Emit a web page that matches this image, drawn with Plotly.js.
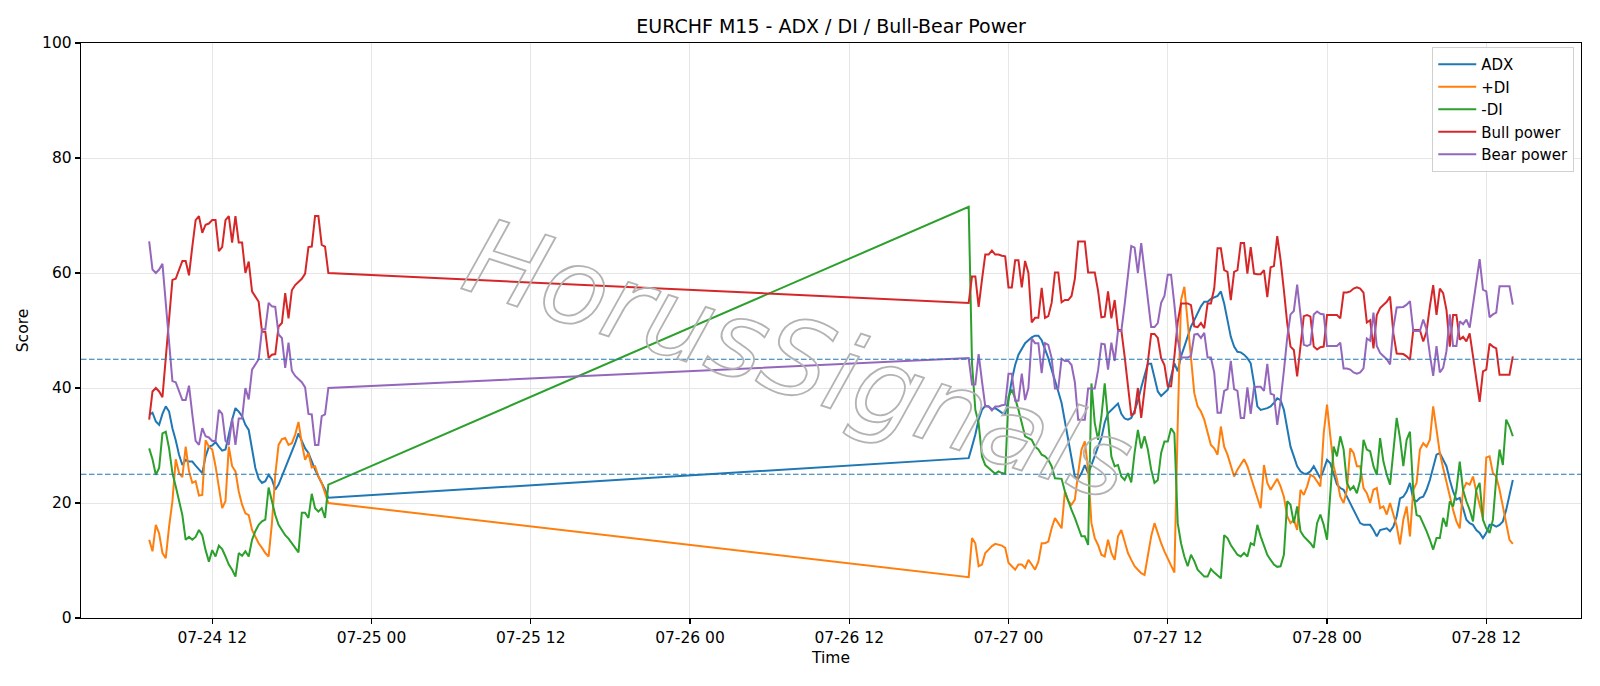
<!DOCTYPE html>
<html>
<head>
<meta charset="utf-8">
<script src="https://cdn.plot.ly/plotly-3.0.1.min.js"></script>
<style>
  html, body { margin: 0; padding: 0; background: #ffffff; }
  #chart { width: 1600px; height: 686px; }
</style>
</head>
<body>
<div id="chart"></div>
<script>
// ---------------- DATA ----------------
const chartTitle = "EURCHF M15 - ADX / DI / Bull-Bear Power";
const seriesNames = ["ADX", "+DI", "-DI", "Bull power", "Bear power"];
const seriesColors = ["#1f77b4", "#ff7f0e", "#2ca02c", "#d62728", "#9467bd"];
const thresholdLevels = [45, 25];
const watermarkText = "HorusSignals";

// Two sessions of M15 bars (15-minute steps)
const seg1Start = "2025-07-24T07:15:00Z";
const seg2Start = "2025-07-26T21:00:00Z";
const barMinutes = 15;

// Session 1 (07-24 07:15 .. 07-24 20:45)
const adx1 = [35.3,35.7,34.2,33.6,35.5,36.8,35.9,33,30.9,28.4,26.6,27.5,27.2,27.2,26.5,25.8,25.2,28.1,29.8,30,30.6,29.8,29.1,29.3,32.1,34.5,36.5,35.9,35.1,33.6,32.7,29.3,26.1,24.2,23.5,23.8,24.9,24.1,22.3,23.2,24.6,26.1,27.5,29,30.4,32.1,30.7,29.5,28.7,27.2,25.8,24.6,23.5,22.3,20.9];
const pdi1 = [13.6,11.6,16.2,14.7,11.3,10.4,15.9,20.3,27.6,25.2,24.5,29.8,25.5,23.5,23.8,21.3,21.4,30.9,29.8,29.3,26.4,22.6,19.1,20.3,29.8,26.4,25.5,22,19.7,18.2,17.9,15.3,14.1,13,12.2,11.3,10.7,16.5,24.9,30.1,31.1,31.3,30.1,30.4,31.9,34.1,30.4,27.5,28.7,26.2,26.4,24.6,23.5,21.8,20];
const mdi1 = [29.5,27.6,24.9,26.1,32.1,32.4,29.5,25.2,22.9,20.6,17.9,13.6,14.1,13.6,14.1,15.3,14.4,11.8,9.8,11.8,10.7,12.6,12,10.7,9.3,8.4,7.2,11.3,10.8,11.6,10.7,13.6,15.1,16.2,16.8,17.1,22.7,20.3,17.9,16.2,15.3,14.4,13.8,13,12.2,11.4,18.3,18.3,17.4,21.6,19.1,18.5,19.1,17.4,23.2];
const bull1 = [34.5,39.4,40,39.4,38.4,45.5,52.4,58.8,59,60.5,62.1,62.1,59.6,64.6,69.2,69.9,67,68.4,68.6,69.2,69.2,63.8,64.5,69.2,69.9,65.3,69.9,65.3,65.3,60,62,56.8,56,55,49.8,49.8,45.2,45.8,45.9,50.7,51.3,56.5,52.1,57,57.9,58.5,59,59.9,64.5,64.6,69.9,69.9,64.9,64.6,60];
const bear1 = [65.5,60.6,60,60.6,61.6,54.5,47.6,41.2,41,39.5,37.9,37.9,40.4,35.4,30.8,30.1,33,31.6,31.4,30.8,30.8,36.2,35.5,30.8,30.1,34.7,30.1,34.7,34.7,40,38,43.2,44,45,50.2,50.2,54.8,54.2,54.1,49.3,48.7,43.5,47.9,43,42.1,41.5,41,40.1,35.5,35.4,30.1,30.1,35.1,35.4,40];

// Session 2 (07-26 21:00 .. 07-28 14:00)
const adx2 = [27.8,29.8,31.9,34.5,36.2,36.9,36.8,36.3,36.5,36.1,35.7,35.5,38,41.4,44,45.8,46.9,47.8,48.3,48.8,49.1,49.1,48.3,46.9,45.2,43.2,41.1,39.4,37.4,34.2,30.7,27.2,24.6,24.2,25.2,26.6,25.2,26.6,28.4,29.8,31.3,34,35.6,36.2,36.8,37.3,35.5,34.7,34.5,34.8,36,37.8,40.1,42.3,44.2,44.2,41.7,39.4,38.6,39.1,39.7,42,44.3,42.9,45.5,47.2,48.9,50.7,51.8,53,54.2,55,55,55.5,55.8,56,56.8,54.7,51.8,48.9,47.2,46.3,46.2,45.8,45.2,44.3,40.8,36.8,36.2,36.3,36.5,36.8,37.4,38.2,37.9,36.2,32.7,29.8,28.1,26.4,25.5,25.1,25.1,25.5,26.4,25.2,24.3,25.8,27.5,26.9,25.2,23.2,22.6,22.3,21.1,20,18.8,17.7,16.5,16.2,16.2,16.2,15.3,14.2,15.3,15.5,15.6,15.1,15.9,17.7,20.8,21.1,22,23.5,20.6,20.3,20.9,21.1,22.3,24,26.4,28.4,28.7,27.5,26.4,24,22,20.6,20.9,19.1,17.1,16.5,16.2,15.3,14.8,13.9,14.8,16.2,16.2,15.9,16.2,16.8,18.8,21.4,24];
const pdi2 = [7.1,13.9,13,9,9.3,11.3,11.9,12.5,12.9,12.7,12.6,12.2,9.6,9,8.4,9.3,9.3,8.7,10.1,9.3,8.4,9.8,13,13,13.3,15.6,17.4,16.5,15.6,22,20.3,19.7,20.6,25.2,29.3,30.7,25.8,16.5,13.9,12.7,11,10.7,13.6,11.3,10.1,14.2,15.3,13.3,11.3,10.1,9,8.4,7.8,7.5,10.7,14.2,16.5,14.7,13,11.6,10.4,9.3,7.9,33.8,55.3,57.6,51.3,44.3,39.1,36.8,35.9,34.5,32.1,30.1,29.5,28.4,33.3,29.8,28.4,26.6,24.6,25.8,26.6,27.6,26.4,24.6,22.9,21.1,19.1,26.6,23.5,22.3,23.2,24.2,22.9,21.1,17.7,16.5,17.1,15.3,22.3,21.4,22.9,24.9,24.6,23.7,22.9,32.1,37.1,31.6,26.4,24.1,21.1,20,22.3,29.5,28.7,26.4,26.4,22.6,21.7,20,22.3,22.6,19.1,19.4,18,20,18,16,12.8,17.1,19.4,14.2,22.3,23.5,29.3,30.4,29.8,31,36.8,32.7,28.7,26.1,23.5,21.1,18.8,16.8,15.6,22.3,23.5,23.2,24.6,22,19.7,17.4,27.9,28.1,25.2,24.6,22.3,19.4,16.5,13.6,12.9];
const mdi2 = [71.5,44.3,36.2,33.9,28.1,26.6,26.1,25.5,25.1,25.5,25.2,25.1,38.5,39.7,38.2,36.2,33.9,31.6,31.3,31,29.8,29.3,28.4,28.1,27.5,26.4,24.3,24.3,24.2,22,20.3,18.8,17.4,15.9,14.2,14.2,12.7,40.8,33.9,31,35,40.8,33.9,28.1,26.4,26.6,24.6,24,25.2,23.6,28.7,32.7,29.5,31.6,29.3,25.8,23.5,24,28.7,30.7,30.7,33,32.1,16.5,13,10.7,9,11,9.9,8.4,7.8,7.2,7.2,8.5,7.9,7.4,6.9,14.4,13.9,12.7,11.9,11,10.7,11.3,10.7,13,12.7,16.2,14.2,12.5,11,10.1,9.3,8.9,9,11,20.3,19.7,16.5,19.4,15.1,14.2,13.6,13,12.2,16.5,18,16.2,13.6,22.3,29.8,28.1,31.6,29.3,23.5,22.3,22.9,21.7,24,31,29.3,29,26.4,24.9,31.3,27.2,24.9,23.2,29.3,34.8,31.3,26.4,31,32.4,22,17.9,17.7,16.5,15.1,13.6,11.9,13.9,13.9,17.4,15.9,20.3,19.4,22.3,27.2,22.3,20.3,18.8,16.8,22.3,23.5,17.1,15.6,14.8,17.1,24.3,29.3,26.6,34.5,33.3,31.6];
const bull2 = [54.8,59.4,59.4,54.1,58.8,63.2,63.2,63.9,63.2,63.2,63,62.9,57.5,57.5,62.2,62.2,57.5,62.1,60,51.4,52.2,52.2,57.4,52.2,52.5,54.8,60.1,60.1,54.9,55.3,55.3,56,59,65.5,65.5,65.5,60.1,60.1,60.1,56.9,52.3,52.4,56.8,52.1,55.3,50.1,50.1,45.5,40.3,35.3,35.6,40,34.8,40,44.9,49.4,49.4,48.7,45.2,44,40.3,40.3,45.5,51.5,54.7,54.7,54.7,54.4,50.7,50.6,51.3,50.4,54.7,54.7,57.3,64.3,64.3,60.5,60.2,55.3,60.2,60.5,65.2,65.2,59.9,64.5,59.9,59.8,59.8,60.5,55.8,61,61.2,66.4,62.3,57,51.3,47.2,46.6,42,47.2,52.5,52.7,52.4,47.2,46.7,47.1,47.2,52.7,52.7,52.7,52.7,52.1,56.6,56.6,56.8,57.3,57.5,57.3,56.6,51.4,51.8,46.9,52.7,53.9,54.4,55,55.9,49.5,46,46,45.9,45.5,44.9,50.1,50.1,50.1,48.1,49.8,54.2,57.9,52.7,57.3,56.5,53.6,47.2,52.7,52.7,48.4,48.9,48.1,49.5,45.5,42,37.6,42.9,43.2,47.7,47.2,46.9,42.3,42.3,42.3,42.3,45.5];
const bear2 = [45.2,40.6,40.6,45.9,41.2,36.8,36.8,36.1,36.8,36.8,37,37.1,42.5,42.5,37.8,37.8,42.5,37.9,40,48.6,47.8,47.8,42.6,47.8,47.5,45.2,39.9,39.9,45.1,44.7,44.7,44,41,34.5,34.5,34.5,39.9,39.9,39.9,43.1,47.7,47.6,43.2,47.9,44.7,49.9,49.9,54.5,59.7,64.7,64.4,60,65.2,60,55.1,50.6,50.6,51.3,54.8,56,59.7,59.7,54.5,48.5,45.3,45.3,45.3,45.6,49.3,49.4,48.7,49.6,45.3,45.3,42.7,35.7,35.7,39.5,39.8,44.7,39.8,39.5,34.8,34.8,40.1,35.5,40.1,40.2,40.2,39.5,44.2,39,38.8,33.6,37.7,43,48.7,52.8,53.4,58,52.8,47.5,47.3,47.6,52.8,53.3,52.9,52.8,47.3,47.3,47.3,47.3,47.9,43.4,43.4,43.2,42.7,42.5,42.7,43.4,48.6,48.2,53.1,47.3,46.1,45.6,45,44.1,50.5,54,54,54.1,54.5,55.1,49.9,49.9,49.9,51.9,50.2,45.8,42.1,47.3,42.7,43.5,46.4,52.8,47.3,47.3,51.6,51.1,51.9,50.5,54.5,58,62.4,57.1,56.8,52.3,52.8,53.1,57.7,57.7,57.7,57.7,54.5];

// ---------------- BUILD ----------------
function pad(n) { return (n < 10 ? "0" : "") + n; }
function fmt(d) {
  return d.getUTCFullYear() + "-" + pad(d.getUTCMonth() + 1) + "-" + pad(d.getUTCDate()) +
    " " + pad(d.getUTCHours()) + ":" + pad(d.getUTCMinutes()) + ":" + pad(d.getUTCSeconds());
}
function times(startIso, n) {
  const t0 = new Date(startIso).getTime();
  const out = [];
  for (let i = 0; i < n; i++) out.push(fmt(new Date(t0 + i * barMinutes * 60000)));
  return out;
}
const x = times(seg1Start, adx1.length).concat(times(seg2Start, adx2.length));
const seriesData = [
  adx1.concat(adx2),
  pdi1.concat(pdi2),
  mdi1.concat(mdi2),
  bull1.concat(bull2),
  bear1.concat(bear2)
];

const traces = seriesNames.map((name, k) => ({
  type: "scatter",
  mode: "lines",
  name: name,
  x: x,
  y: seriesData[k],
  line: { color: seriesColors[k], width: 2 }
}));

// x range with 5% margins like matplotlib
const tMin = new Date(seg1Start).getTime();
const tMax = new Date(seg2Start).getTime() + (adx2.length - 1) * barMinutes * 60000;
const span = tMax - tMin;
const xRange = [fmt(new Date(tMin - 0.05 * span)), fmt(new Date(tMax + 0.05 * span))];

const font = "DejaVu Sans, Liberation Sans, sans-serif";

const shapes = thresholdLevels.map(v => ({
  type: "line", xref: "paper", x0: 0, x1: 1, yref: "y", y0: v, y1: v,
  line: { color: "#1f77b4", width: 1.2, dash: "5.5px,2.5px" },
  layer: "above"
}));

const layout = {
  width: 1600,
  height: 686,
  margin: { l: 81, r: 19, t: 43, b: 68 },
  paper_bgcolor: "#ffffff",
  plot_bgcolor: "#ffffff",
  font: { family: font, size: 15.5, color: "#000000" },
  title: {
    text: chartTitle,
    font: { family: font, size: 19, color: "#000000" },
    x: 0.5, xref: "paper", xanchor: "center",
    y: 1 - 26.5 / 686, yref: "container", yanchor: "middle"
  },
  xaxis: {
    type: "date",
    range: xRange,
    tick0: "2025-07-24 00:00:00",
    dtick: 12 * 3600 * 1000,
    tickformat: "%m-%d %H",
    showgrid: true,
    gridcolor: "#e6e6e6",
    gridwidth: 1,
    showline: true, mirror: true, linecolor: "#000000", linewidth: 1.2,
    ticks: "outside", ticklen: 5, tickwidth: 1.1, tickcolor: "#000000",
    tickfont: { family: font, size: 15.5, color: "#000000" },
    zeroline: false,
    automargin: false,
    title: { text: "Time", font: { family: font, size: 15.5 }, standoff: 6 }
  },
  yaxis: {
    range: [0, 100],
    tickvals: [0, 20, 40, 60, 80, 100],
    showgrid: true,
    gridcolor: "#e6e6e6",
    gridwidth: 1,
    showline: true, mirror: true, linecolor: "#000000", linewidth: 1.2,
    ticks: "outside", ticklen: 5, tickwidth: 1.1, tickcolor: "#000000",
    tickfont: { family: font, size: 15.5, color: "#000000" },
    zeroline: false,
    automargin: false,
    title: { text: "Score", font: { family: font, size: 15.5 }, standoff: 9 }
  },
  legend: {
    x: 0.9955, xanchor: "right",
    y: 0.993, yanchor: "top",
    bgcolor: "rgba(255,255,255,0.85)",
    bordercolor: "#d0d0d0",
    borderwidth: 1,
    font: { family: font, size: 15, color: "#000000" },
    itemwidth: 38,
    tracegroupgap: 0
  },
  shapes: shapes,
  annotations: [{
    text: watermarkText,
    xref: "paper", yref: "paper",
    x: 0.478, y: 0.45,
    xanchor: "center", yanchor: "middle",
    showarrow: false,
    textangle: 18,
    font: { family: font, size: 106, style: "italic", color: "#aaaaaa" }
  }],
  showlegend: true
};

Plotly.newPlot("chart", traces, layout, { displayModeBar: false, staticPlot: true }).then(() => {
  document.querySelectorAll(".annotation-text").forEach(t => {
    t.style.fill = "none";
    t.style.stroke = "#b3b3b3";
    t.style.strokeWidth = "1.8px";
  });
});
</script>
</body>
</html>
